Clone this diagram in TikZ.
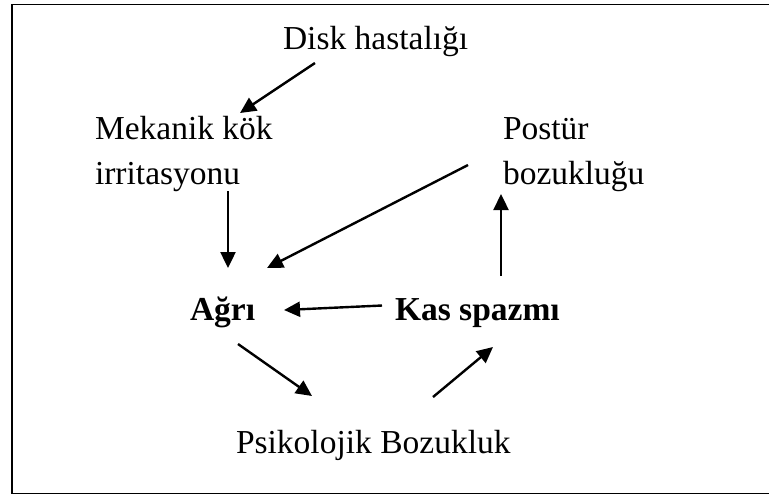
\documentclass[tikz,border=0pt]{standalone}
\usepackage{fontspec}
\setmainfont{Liberation Serif}
\usetikzlibrary{arrows.meta}
\begin{document}
\begin{tikzpicture}[x=0.5pt,y=-0.5pt,
  lbl/.style={inner sep=0pt,outer sep=0pt,anchor=base west,font=\fontsize{16.75}{22.5}\selectfont,align=left},
  blbl/.style={lbl,font=\fontsize{16.75}{22.5}\selectfont\bfseries},
  conn/.style={line width=1.2pt,-{Triangle[length=8pt,width=7.5pt]}},
  frame/.style={line width=0.8pt}]
\clip (0,0) rectangle (769,495);
\draw[frame] (12,4.3) rectangle (790,493.5);
\node[lbl] (disk) at (283,49) {Disk hastalığı};
\node[lbl] (mek) at (95,184) {Mekanik kök\\irritasyonu};
\node[lbl] (pos) at (503,184) {Postür\\bozukluğu};
\node[blbl] (agri) at (190,320) {Ağrı};
\node[blbl] (kas) at (395,320) {Kas spazmı};
\node[lbl] (psi) at (236,453) {Psikolojik Bozukluk};
% connector end points
\coordinate (d1) at (315,63);   \coordinate (m1) at (240,113);
\coordinate (m2) at (228,191);  \coordinate (a1) at (228,268);
\coordinate (p1) at (468,165);  \coordinate (a2) at (267,268);
\coordinate (k1) at (501,276);  \coordinate (p2) at (501,194);
\coordinate (k2) at (382,305.5);\coordinate (a3) at (284,310);
\coordinate (a4) at (238,344);  \coordinate (s1) at (312,396);
\coordinate (s2) at (433,397);  \coordinate (k3) at (493,347);
\draw[conn] (d1) -- (m1);
\draw[conn] (m2) -- (a1);
\draw[conn] (p1) -- (a2);
\draw[conn] (k1) -- (p2);
\draw[conn] (k2) -- (a3);
\draw[conn] (a4) -- (s1);
\draw[conn] (s2) -- (k3);
\end{tikzpicture}
\end{document}
